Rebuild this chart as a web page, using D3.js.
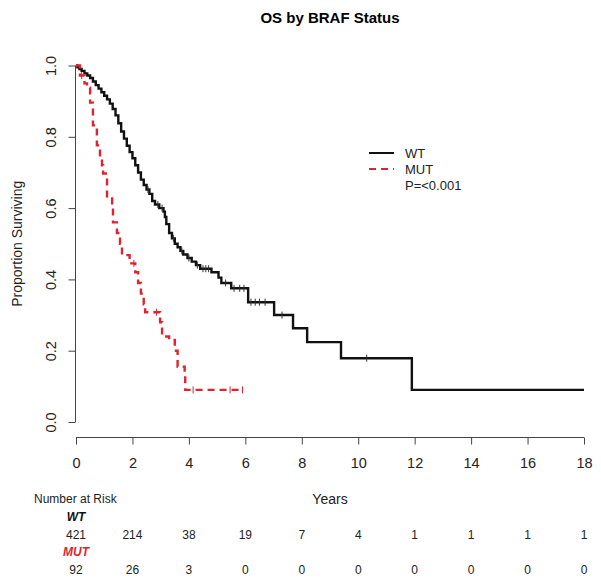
<!DOCTYPE html>
<html>
<head>
<meta charset="utf-8">
<script src="https://cdn.jsdelivr.net/npm/d3@7/dist/d3.min.js"></script>
<style>
  html, body { margin: 0; padding: 0; background: #fff; }
  svg { display: block; font-family: "Liberation Sans", Arial, Helvetica, sans-serif; }
</style>
</head>
<body>
<svg id="chart" width="601" height="583"></svg>
<script>
// ---- Data ----
const title = "OS by BRAF Status";
const xTicks = [0, 2, 4, 6, 8, 10, 12, 14, 16, 18];
const yTicks = [0, 0.2, 0.4, 0.6, 0.8, 1.0];
const groups = ["WT", "MUT"];

// Kaplan-Meier steps: [time (years), survival after the drop]
const wtSteps = [
  [0, 1.0], [0.05, 0.995], [0.12, 0.99], [0.2, 0.985], [0.3, 0.978], [0.4, 0.972],
  [0.5, 0.965], [0.6, 0.955], [0.7, 0.945], [0.8, 0.935], [0.9, 0.925], [1.0, 0.915],
  [1.1, 0.905], [1.2, 0.893], [1.3, 0.878], [1.4, 0.86], [1.5, 0.838], [1.6, 0.815],
  [1.7, 0.795], [1.8, 0.775], [1.9, 0.757], [2.0, 0.74], [2.1, 0.72], [2.2, 0.70],
  [2.3, 0.68], [2.4, 0.665], [2.5, 0.652], [2.6, 0.64], [2.7, 0.62], [2.8, 0.61],
  [2.95, 0.60], [3.1, 0.59], [3.15, 0.575], [3.2, 0.555], [3.3, 0.53], [3.4, 0.515],
  [3.5, 0.50], [3.6, 0.49], [3.7, 0.48], [3.8, 0.47], [3.95, 0.46], [4.1, 0.45],
  [4.25, 0.44], [4.4, 0.43], [4.8, 0.42], [5.05, 0.405], [5.15, 0.39], [5.5, 0.375],
  [6.1, 0.336], [7.02, 0.30], [7.69, 0.263], [8.19, 0.224], [9.39, 0.179], [11.9, 0.09],
  [18, 0.09]
];
const wtCensor = [2.55, 2.9, 3.05, 3.45, 3.75, 4.0, 4.3, 4.5, 4.6, 4.7, 5.3, 5.6, 5.8, 5.95,
                  6.2, 6.35, 6.5, 6.7, 7.3, 10.3];

const mutSteps = [
  [0, 1.0], [0.14, 0.972], [0.3, 0.95], [0.39, 0.938], [0.5, 0.896], [0.6, 0.832],
  [0.74, 0.776], [0.85, 0.74], [0.92, 0.72], [0.96, 0.697], [1.1, 0.627], [1.28, 0.60],
  [1.31, 0.56], [1.45, 0.53], [1.56, 0.50], [1.63, 0.468], [1.9, 0.445], [2.1, 0.42],
  [2.2, 0.39], [2.3, 0.36], [2.4, 0.33], [2.45, 0.308], [2.98, 0.28], [3.05, 0.24],
  [3.3, 0.23], [3.5, 0.20], [3.6, 0.155], [3.85, 0.137], [3.87, 0.09], [5.94, 0.09]
];
const mutCensor = [0.2, 2.05, 2.85, 4.15, 5.46, 5.9];

const wtAtRisk = [421, 214, 38, 19, 7, 4, 1, 1, 1, 1];
const mutAtRisk = [92, 26, 3, 0, 0, 0, 0, 0, 0, 0];
const pText = "P=<0.001";

// ---- Drawing ----
const svg = d3.select("#chart");
const red = "#e0242f";
const axisColor = "#444";

const x = d3.scaleLinear().domain([0, 18]).range([76, 584]);
const y = d3.scaleLinear().domain([0, 1]).range([422, 65.5]);

// Title
svg.append("text")
  .attr("x", 330).attr("y", 23)
  .attr("text-anchor", "middle")
  .attr("font-weight", "bold").attr("font-size", 15)
  .text(title);

// Y axis
const yAxis = svg.append("g")
  .attr("transform", "translate(75.5,0)")
  .call(d3.axisLeft(y).tickValues(yTicks).tickFormat(d3.format(".1f")).tickSize(7).tickSizeOuter(0));
yAxis.select(".domain").attr("stroke", axisColor).attr("d", `M0,${y(0)}V${y(1)}`);
yAxis.selectAll(".tick line").attr("stroke", axisColor);
yAxis.selectAll(".tick text")
  .attr("font-size", 14.5).attr("fill", "#222")
  .attr("x", null).attr("dy", null)
  .attr("text-anchor", "middle")
  .attr("transform", "translate(-25,0) rotate(-90)")
  .attr("dy", "0.35em");

// X axis
const xAxis = svg.append("g")
  .attr("transform", "translate(0,437.5)")
  .call(d3.axisBottom(x).tickValues(xTicks).tickFormat(d3.format("d")).tickSize(7).tickSizeOuter(0));
xAxis.select(".domain").attr("stroke", axisColor).attr("d", `M${x(0)},0H${x(18)}`);
xAxis.selectAll(".tick line").attr("stroke", axisColor);
xAxis.selectAll(".tick text").attr("font-size", 14.5).attr("fill", "#222").attr("y", 25.5).attr("dy", "0.35em");

// Axis labels
svg.append("text")
  .attr("transform", `translate(17,${(y(0) + y(1)) / 2}) rotate(-90)`)
  .attr("text-anchor", "middle").attr("dy", "0.35em")
  .attr("font-size", 14).attr("fill", "#222")
  .text("Proportion Surviving");
svg.append("text")
  .attr("x", 330).attr("y", 499).attr("dy", "0.35em")
  .attr("text-anchor", "middle").attr("font-size", 14).attr("fill", "#222")
  .text("Years");

// Curves
const line = d3.line().x(d => x(d[0])).y(d => y(d[1])).curve(d3.curveStepAfter);
svg.append("path").datum(wtSteps)
  .attr("d", line).attr("fill", "none").attr("stroke", "#111").attr("stroke-width", 2.4);
svg.append("path").datum(mutSteps)
  .attr("d", line).attr("fill", "none").attr("stroke", red).attr("stroke-width", 2.4)
  .attr("stroke-dasharray", "7,5");

function survAt(steps, t) {
  let s = steps[0][1];
  for (const [tt, ss] of steps) { if (tt <= t) s = ss; else break; }
  return s;
}
svg.append("g").selectAll("line").data(wtCensor).join("line")
  .attr("x1", d => x(d)).attr("x2", d => x(d))
  .attr("y1", d => y(survAt(wtSteps, d)) - 3.5).attr("y2", d => y(survAt(wtSteps, d)) + 3.5)
  .attr("stroke", "#333").attr("stroke-width", 1);
svg.append("g").selectAll("line").data(mutCensor).join("line")
  .attr("x1", d => x(d)).attr("x2", d => x(d))
  .attr("y1", d => y(survAt(mutSteps, d)) - 3.5).attr("y2", d => y(survAt(mutSteps, d)) + 3.5)
  .attr("stroke", red).attr("stroke-width", 1);

// Legend
const lg = svg.append("g");
lg.append("line").attr("x1", 369).attr("x2", 394).attr("y1", 153).attr("y2", 153)
  .attr("stroke", "#111").attr("stroke-width", 2);
lg.append("line").attr("x1", 369).attr("x2", 394).attr("y1", 169).attr("y2", 169)
  .attr("stroke", red).attr("stroke-width", 2).attr("stroke-dasharray", "7,5");
[groups[0], groups[1], pText].forEach((t, i) => {
  lg.append("text").attr("x", 405).attr("y", 153 + 16 * i).attr("dy", "0.35em")
    .attr("font-size", 13).attr("fill", "#222").text(t);
});

// Number at risk table
svg.append("text").attr("x", 34).attr("y", 499).attr("dy", "0.35em")
  .attr("font-size", 12).attr("fill", "#222").text("Number at Risk");
svg.append("text").attr("x", x(0)).attr("y", 517).attr("dy", "0.35em")
  .attr("text-anchor", "middle").attr("font-size", 12).attr("font-weight", "bold")
  .attr("font-style", "italic").attr("fill", "#111").text(groups[0]);
svg.append("text").attr("x", x(0)).attr("y", 552).attr("dy", "0.35em")
  .attr("text-anchor", "middle").attr("font-size", 12).attr("font-weight", "bold")
  .attr("font-style", "italic").attr("fill", red).text(groups[1]);
svg.append("g").selectAll("text").data(wtAtRisk).join("text")
  .attr("x", (d, i) => x(xTicks[i])).attr("y", 535).attr("dy", "0.35em")
  .attr("text-anchor", "middle").attr("font-size", 12).attr("fill", "#222").text(d => d);
svg.append("g").selectAll("text").data(mutAtRisk).join("text")
  .attr("x", (d, i) => x(xTicks[i])).attr("y", 570).attr("dy", "0.35em")
  .attr("text-anchor", "middle").attr("font-size", 12).attr("fill", "#222").text(d => d);
</script>
</body>
</html>
